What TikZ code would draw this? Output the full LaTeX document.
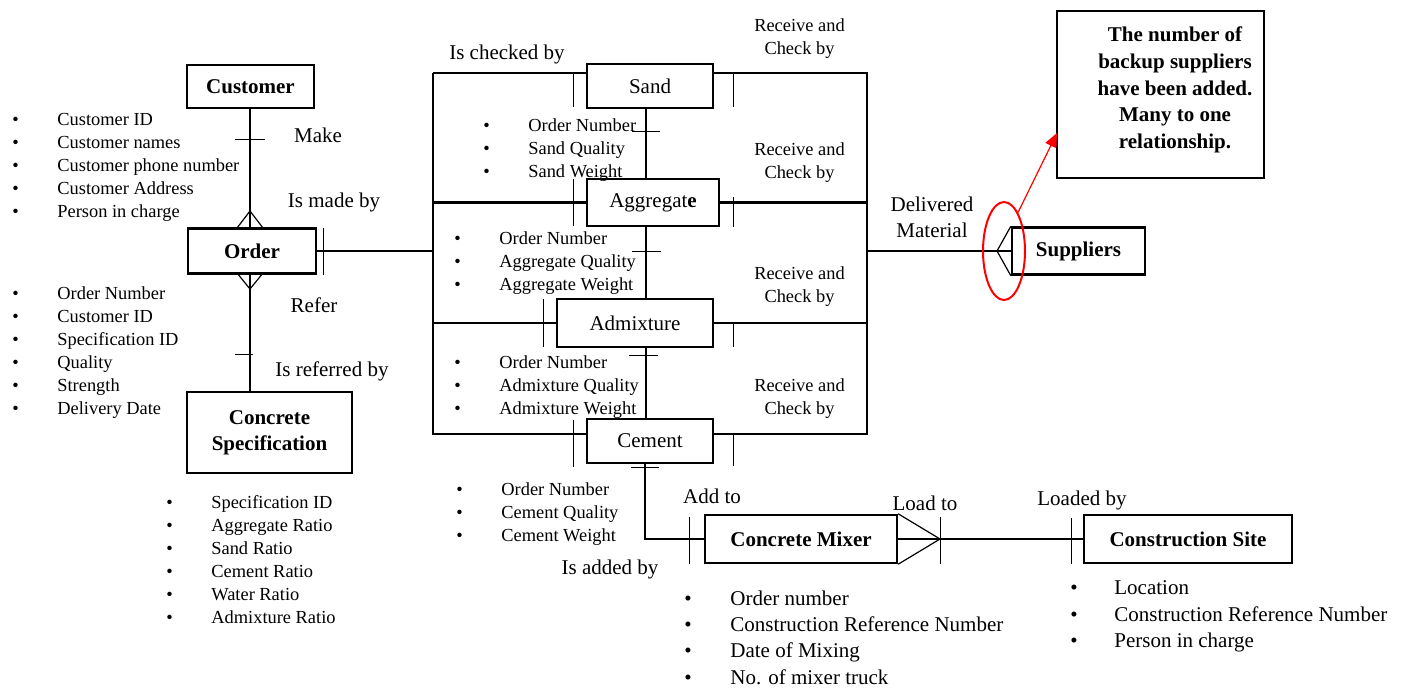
\documentclass[tikz,border=0pt]{standalone}
\usepackage{fontspec}
\setmainfont{Liberation Serif}
\usetikzlibrary{arrows.meta,shapes.geometric}

% bullet item with fixed indent
\newcommand\itm{\strut\makebox[22.5pt][l]{\textbullet}}
\newcommand\itmb{\strut\makebox[23pt][l]{\textbullet}}

\begin{document}
\begin{tikzpicture}[x=0.5pt,y=-0.5pt,
  ent/.style={draw, line width=1.2pt, rectangle, inner sep=0pt, align=center,
              font=\fontsize{10.5}{13}\selectfont},
  lab/.style={inner sep=0pt, align=center, yshift=-1pt, font=\fontsize{10.5}{13}\selectfont},
  small/.style={inner sep=0pt, align=center, yshift=-1pt, font=\fontsize{9.2}{11.5}\selectfont},
  attr/.style={inner sep=0pt, anchor=west, align=left, yshift=-1pt, font=\fontsize{9.2}{11.5}\selectfont},
  attrbig/.style={inner sep=0pt, anchor=west, align=left, yshift=-1pt, font=\fontsize{10.5}{13.2}\selectfont},
  link/.style={line width=1.1pt},
  thinlink/.style={line width=0.6pt},
  tick/.style={line width=0.5pt},
]
\useasboundingbox (0,0) rectangle (1408,687);

% ---------- entities ----------
\node[ent, minimum width=63.5pt, minimum height=21.5pt] (customer) at (250.5,86.5) {\textbf{Customer}};
\node[ent, minimum width=64pt, minimum height=22.5pt] (order) at (252,251) {\textbf{Order}};
\node[ent, minimum width=82.5pt, minimum height=40.5pt, font=\fontsize{10.5}{13}\selectfont] (spec) at (269.5,432.5) {\textbf{Concrete}\\\textbf{Specification}};
\node[ent, minimum width=63pt, minimum height=22pt] (sand) at (650,86) {Sand};
\node[ent, minimum width=66pt, minimum height=23.5pt] (aggregate) at (653,202.5) {Aggregat\textbf{e}};
\node[ent, minimum width=78pt, minimum height=24pt] (admixture) at (635,323) {Admixture};
\node[ent, minimum width=63pt, minimum height=22pt] (cement) at (650,441) {Cement};
\node[ent, minimum width=66.5pt, minimum height=23.5pt] (suppliers) at (1078.5,251) {\textbf{Suppliers}};
\node[ent, minimum width=96pt, minimum height=24pt] (mixer) at (801,539) {\textbf{Concrete Mixer}};
\node[ent, minimum width=104pt, minimum height=24pt] (site) at (1188,539) {\textbf{Construction Site}};

% note box
\node[draw, line width=1.2pt, rectangle, minimum width=103.5pt, minimum height=83.5pt, inner sep=0pt] (note) at (1160.5,94.5) {};
\node[inner sep=0pt, align=center, font=\fontsize{10.5}{13.35}\selectfont\bfseries] (notetext) at (1175,90)
  {The number of\\backup suppliers\\have been added.\\Many to one\\relationship.};

% ---------- helper coordinates ----------
\coordinate (lx) at (250,0);
\coordinate (mx) at (646,0);
\coordinate (cx) at (645,0);
\coordinate (fTL) at (433,73);
\coordinate (fBL) at (433,434);
\coordinate (fTR) at (867,73);
\coordinate (fBR) at (867,434);
\coordinate (fAL) at (433,202.5);
\coordinate (fDL) at (433,323);
\coordinate (fAR) at (867,202.5);
\coordinate (fDR) at (867,323);
\coordinate (fOL) at (433,251);
\coordinate (fSR) at (867,251);

% ---------- customer / order / specification ----------
\draw[link] (customer.south -| lx) -- (order.north -| lx);
\draw[tick] (235,139) -- (265,139);
\draw[thinlink] (237,228) -- (250,211) -- (263,228);

\draw[link] (order.south -| lx) -- (spec.north -| lx);
\draw[thinlink] (237,273) -- (250,289) -- (263,273);
\draw[tick] (235,354) -- (253,354);

\draw[link] (order.east) -- (fOL);
\draw[tick] (323,228) -- (323,275);

% ---------- material frame ----------
\draw[thinlink] (fTL) -- (sand.west |- fTL);
\draw[link] (fTL) -- (fBL) -- (cement.west |- fBL);
\draw[link] (fAL) -- (aggregate.west);
\draw[link] (fDL) -- (admixture.west);
\draw[link] (sand.east |- fTR) -- (fTR) -- (fBR) -- (cement.east |- fBR);
\draw[link] (aggregate.east) -- (fAR);
\draw[link] (admixture.east) -- (fDR);

% ticks beside the materials
\draw[tick] (573,74) -- (573,107);
\draw[tick] (733,74) -- (733,107);
\draw[tick] (573,179) -- (573,226);
\draw[tick] (733,197) -- (733,227);
\draw[tick] (543,299) -- (543,347);
\draw[tick] (733,322) -- (733,347);
\draw[tick] (573,420) -- (573,467);
\draw[tick] (733,433) -- (733,466);

% chain between the materials
\draw[thinlink] (sand.south -| mx) -- (aggregate.north -| mx);
\draw[thinlink] (aggregate.south -| mx) -- (admixture.north -| mx);
\draw[thinlink] (admixture.south -| mx) -- (cement.north -| mx);
\draw[tick] (632,131) -- (660,131);
\draw[tick] (632,251) -- (661,251);
\draw[tick] (629,355) -- (658,355);
\draw[tick] (631,467) -- (659,467);

% ---------- suppliers ----------
\draw[link] (fSR) -- (suppliers.west);
\draw[thinlink] (suppliers.north west) -- (997,251) -- (suppliers.south west);
\node[draw=red, line width=1pt, ellipse, minimum width=21pt, minimum height=49pt, inner sep=0pt] (hl) at (1004,251) {};
\coordinate (arrowtip) at (1057,133);
\draw[red, line width=0.6pt, -{Triangle[length=7pt,width=6pt]}] (hl.70) -- (arrowtip);

% ---------- cement / mixer / site ----------
\draw[thinlink] (cement.south -| cx) -- (cx |- mixer.west) -- (mixer.west);
\draw[tick] (689,517) -- (689,564);
\draw[link] (mixer.east) -- (site.west);
\draw[thinlink] (mixer.north east) -- (940,539) -- (mixer.south east);
\draw[tick] (940,517) -- (940,564);
\draw[tick] (1071,518) -- (1071,564);

% ---------- relationship labels ----------
\node[lab] (lmake) at (318,133) {Make};
\node[lab] (lmadeby) at (334,200) {Is made by};
\node[lab] (lrefer) at (314,303) {Refer};
\node[lab] (lrefby) at (332,369) {Is referred by};
\node[lab] (lchecked) at (507,52) {Is checked by};
\node[small] (lrc1) at (799.5,36.5) {Receive and\\Check by};
\node[small] (lrc2) at (799.5,160.5) {Receive and\\Check by};
\node[small] (lrc3) at (799.5,284.5) {Receive and\\Check by};
\node[small] (lrc4) at (799.5,396.5) {Receive and\\Check by};
\node[lab] (ldeliv) at (932,215) {Delivered\\Material};
\node[lab] (laddto) at (712,494) {Add to};
\node[lab] (lloadto) at (925,501) {Load to};
\node[lab] (laddedby) at (610,567) {Is added by};
\node[lab] (lloadedby) at (1082,498) {Loaded by};

% ---------- attribute lists ----------
\node[attr] (acust) at (12,165) {\itm Customer ID\\\itm Customer names\\\itm Customer phone number\\\itm Customer Address\\\itm Person in charge};
\node[attr] (aorder) at (12,350) {\itm Order Number\\\itm Customer ID\\\itm Specification ID\\\itm Quality\\\itm Strength\\\itm Delivery Date};
\node[attr] (aspec) at (166,559.5) {\itm Specification ID\\\itm Aggregate Ratio\\\itm Sand Ratio\\\itm Cement Ratio\\\itm Water Ratio\\\itm Admixture Ratio};
\node[attr] (asand) at (483,148) {\itm Order Number\\\itm Sand Quality\\\itm Sand Weight};
\node[attr] (aaggr) at (454,260.5) {\itm Order Number\\\itm Aggregate Quality\\\itm Aggregate Weight};
\node[attr] (aadmx) at (454,384.5) {\itm Order Number\\\itm Admixture Quality\\\itm Admixture Weight};
\node[attr] (acem) at (456,511.5) {\itm Order Number\\\itm Cement Quality\\\itm Cement Weight};
\node[attrbig] (amix) at (684,637.5) {\itmb Order number\\\itmb Construction Reference Number\\\itmb Date of Mixing\\\itmb No. of mixer truck};
\node[attrbig] (asite) at (1070,614) {\makebox[22pt][l]{\textbullet}\strut Location\\\makebox[22pt][l]{\textbullet}\strut Construction Reference Number\\\makebox[22pt][l]{\textbullet}\strut Person in charge};
\end{tikzpicture}
\end{document}
